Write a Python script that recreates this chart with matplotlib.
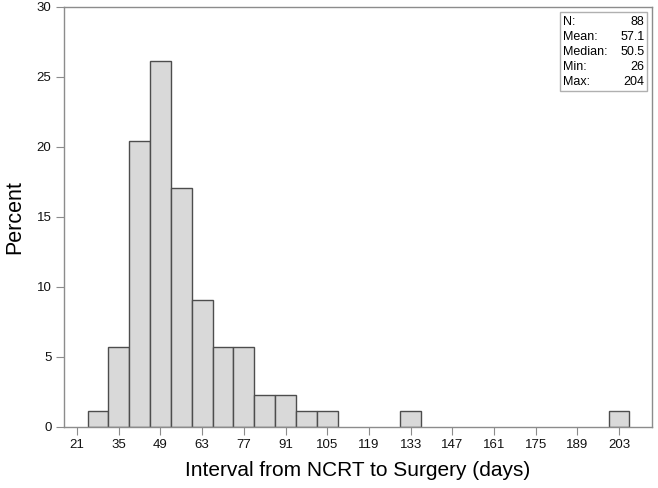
import numpy as np
import matplotlib.pyplot as plt

plt.rcParams['font.family'] = ['Liberation Sans', 'DejaVu Sans']

# bin midpoints (days) and percent of patients
bin_mid = [28, 35, 42, 49, 56, 63, 70, 77, 84, 91, 98, 105, 133, 203]
percent = [1.14, 5.68, 20.45, 26.14, 17.05, 9.09, 5.68, 5.68, 2.27, 2.27, 1.14, 1.14, 1.14, 1.14]
bin_width = 7
xticks = list(range(21, 204, 14))
yticks = [0, 5, 10, 15, 20, 25, 30]
stats_names = ["N:", "Mean:", "Median:", "Min:", "Max:"]
stats_vals = ["88", "57.1", "50.5", "26", "204"]

fig = plt.figure(figsize=(6.58, 4.88), dpi=100)
ax = fig.add_axes([0.0973, 0.1256, 0.8937, 0.8601])

ax.bar(bin_mid, percent, width=bin_width, color='#d9d9d9',
       edgecolor='#4d4d4d', linewidth=1.0)

ax.set_xlim(16.6, 214.1)
ax.set_ylim(0, 30)
ax.set_xticks(xticks)
ax.set_yticks(yticks)
for s in ax.spines.values():
    s.set_color('#8c8c8c')
    s.set_linewidth(1.0)
ax.tick_params(axis='both', direction='out', length=6, color='#8c8c8c',
               labelsize=9.5, labelcolor='#111111', pad=3)

ax.set_xlabel("Interval from NCRT to Surgery (days)", fontsize=15, labelpad=7)
ax.set_ylabel("Percent", fontsize=15.5, labelpad=8)

# stats box
ax.add_patch(plt.Rectangle((0.8435, 0.799), 0.148, 0.188, transform=ax.transAxes,
                           facecolor='white', edgecolor='#b0b0b0', linewidth=1.0))
for i, (n, v) in enumerate(zip(stats_names, stats_vals)):
    y = 0.964 - i * 0.0357
    ax.text(0.849, y, n, transform=ax.transAxes, fontsize=9, va='center', ha='left')
    ax.text(0.987, y, v, transform=ax.transAxes, fontsize=9, va='center', ha='right')

fig.savefig("out.png", dpi=100)
